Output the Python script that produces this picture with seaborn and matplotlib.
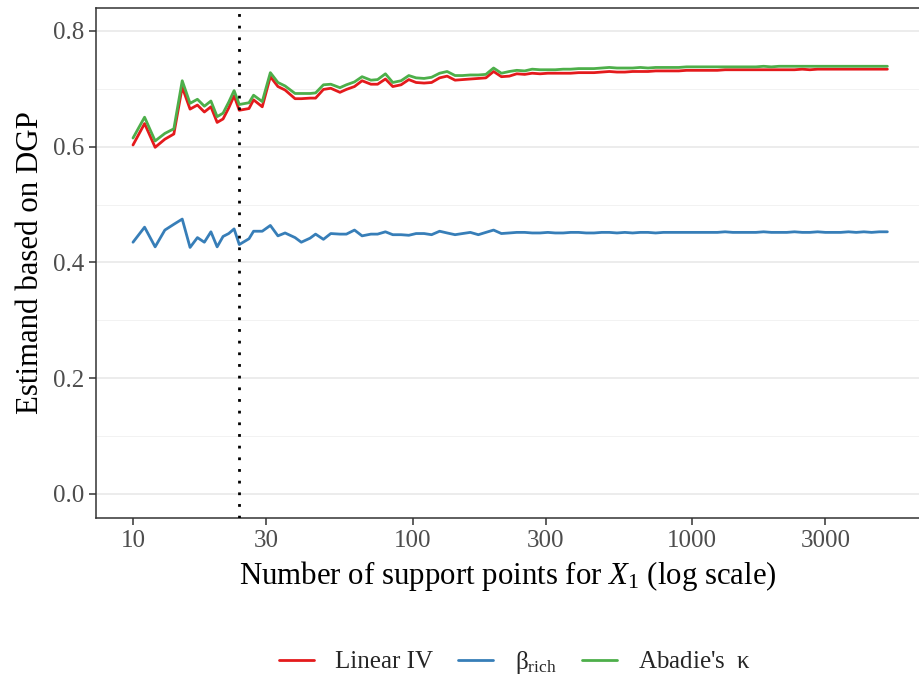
import numpy as np
import pandas as pd
import matplotlib
matplotlib.use("Agg")
import matplotlib.pyplot as plt
import seaborn as sns
from matplotlib.ticker import FixedLocator, NullLocator, FixedFormatter

# Number of support points for X1
support_points = [10, 11, 12, 13, 14, 15, 16, 17, 18, 19, 20, 21, 22, 23, 24,
                  26, 27, 29, 31, 33, 35, 38, 40, 43, 45, 48, 51, 55, 58, 62, 66, 71, 75, 80,
                  85, 91, 97, 103, 110, 117, 125, 133, 142, 151, 161, 172, 183, 195, 208, 222,
                  236, 252, 268, 286, 305, 324, 346, 368, 393,
                  418, 446, 475, 506, 539, 575, 613, 653, 696, 741, 790, 842, 897, 956, 1018,
                  1085, 1156, 1232, 1313, 1399, 1491, 1589, 1693, 1804, 1922, 2048, 2183, 2326,
                  2479, 2641, 2815, 2999, 3196, 3405, 3629, 3867, 4121, 4391, 4679, 5000]

linear_iv = [0.603, 0.640, 0.599, 0.613, 0.622, 0.703, 0.665, 0.672, 0.660, 0.669, 0.642, 0.648, 0.667, 0.688, 0.663,
             0.666, 0.681, 0.669, 0.721, 0.704, 0.698, 0.683, 0.683, 0.684, 0.684, 0.699, 0.701, 0.694, 0.699, 0.704, 0.714, 0.708, 0.708, 0.717,
             0.704, 0.707, 0.716, 0.711, 0.710, 0.711, 0.719, 0.722, 0.715, 0.716, 0.717, 0.718, 0.719, 0.730, 0.721, 0.722,
             0.726, 0.725, 0.727, 0.726, 0.727, 0.727, 0.727, 0.727, 0.728,
             0.728, 0.728, 0.729, 0.730, 0.729, 0.729, 0.730, 0.730, 0.730, 0.731, 0.731, 0.731, 0.731, 0.732, 0.732,
             0.732, 0.732, 0.732, 0.733, 0.733, 0.733, 0.733, 0.733, 0.733, 0.733, 0.733, 0.733, 0.733,
             0.734, 0.733, 0.734, 0.734, 0.734, 0.734, 0.734, 0.734, 0.734, 0.734, 0.734, 0.734]

beta_rich = [0.435, 0.461, 0.427, 0.456, 0.466, 0.475, 0.426, 0.443, 0.435, 0.453, 0.427, 0.445, 0.450, 0.458, 0.431,
             0.441, 0.454, 0.454, 0.464, 0.446, 0.451, 0.443, 0.435, 0.442, 0.449, 0.440, 0.450, 0.449, 0.449, 0.456, 0.446, 0.449, 0.449, 0.453,
             0.448, 0.448, 0.447, 0.450, 0.450, 0.448, 0.454, 0.451, 0.448, 0.450, 0.452, 0.448, 0.452, 0.456, 0.450, 0.451,
             0.452, 0.452, 0.451, 0.451, 0.452, 0.451, 0.451, 0.452, 0.452,
             0.451, 0.451, 0.452, 0.452, 0.451, 0.452, 0.451, 0.452, 0.452, 0.451, 0.452, 0.452, 0.452, 0.452, 0.452,
             0.452, 0.452, 0.452, 0.453, 0.452, 0.452, 0.452, 0.452, 0.453, 0.452, 0.452, 0.452, 0.453,
             0.452, 0.452, 0.453, 0.452, 0.452, 0.452, 0.453, 0.452, 0.453, 0.452, 0.453, 0.453]

abadie_kappa = [0.615, 0.651, 0.610, 0.623, 0.631, 0.714, 0.675, 0.682, 0.670, 0.679, 0.652, 0.658, 0.677, 0.697, 0.673,
                0.676, 0.689, 0.678, 0.728, 0.711, 0.705, 0.692, 0.692, 0.692, 0.693, 0.707, 0.708, 0.702, 0.707, 0.712, 0.721, 0.715, 0.716, 0.726,
                0.711, 0.714, 0.723, 0.719, 0.718, 0.720, 0.727, 0.730, 0.723, 0.723, 0.724, 0.724, 0.725, 0.736, 0.727, 0.730,
                0.732, 0.731, 0.734, 0.733, 0.733, 0.733, 0.734, 0.734, 0.735,
                0.735, 0.735, 0.736, 0.737, 0.736, 0.736, 0.736, 0.737, 0.736, 0.737, 0.737, 0.737, 0.737, 0.738, 0.738,
                0.738, 0.738, 0.738, 0.738, 0.738, 0.738, 0.738, 0.738, 0.739, 0.738, 0.739, 0.739, 0.739,
                0.739, 0.739, 0.739, 0.739, 0.739, 0.739, 0.739, 0.739, 0.739, 0.739, 0.739, 0.739]

series_labels = ["Linear IV", r"$\mathrm{β}_{\mathrm{rich}}$", r"Abadie's  $\mathrm{κ}$"]
series_colors = ["#E41A1C", "#377EB8", "#4DAF4A"]
cutoff_support = 24

x_ticks = [10, 30, 100, 300, 1000, 3000]
x_tick_labels = ["10", "30", "100", "300", "1000", "3000"]
y_ticks = [0.0, 0.2, 0.4, 0.6, 0.8]
y_minor = [0.1, 0.3, 0.5, 0.7]

df = pd.DataFrame({
    "support": support_points * 3,
    "estimand": linear_iv + beta_rich + abadie_kappa,
    "method": [series_labels[0]] * len(support_points)
              + [series_labels[1]] * len(support_points)
              + [series_labels[2]] * len(support_points),
})

sns.set_theme(style="white")
plt.rcParams["font.family"] = ["Liberation Serif", "DejaVu Serif"]
plt.rcParams["mathtext.fontset"] = "custom"
plt.rcParams["mathtext.rm"] = "Liberation Serif"
plt.rcParams["mathtext.it"] = "Liberation Serif:italic"
plt.rcParams["mathtext.bf"] = "Liberation Serif:bold"

fig = plt.figure(figsize=(9.19, 6.84), dpi=100)
ax = fig.add_axes([96 / 919, 1 - 518 / 684, 824 / 919, 510 / 684])

sns.lineplot(data=df, x="support", y="estimand", hue="method",
             hue_order=series_labels, palette=dict(zip(series_labels, series_colors)),
             linewidth=2.0, ax=ax, zorder=3)

ax.axvline(cutoff_support, color="black", linewidth=2.0, linestyle=(0, (1, 3.2)), zorder=4)

ax.set_xscale("log")
ax.set_xlim(10 ** 0.8676, 10 ** 3.8157)
ax.set_ylim(-0.0415, 0.8397)

ax.xaxis.set_major_locator(FixedLocator(x_ticks))
ax.xaxis.set_major_formatter(FixedFormatter(x_tick_labels))
ax.xaxis.set_minor_locator(NullLocator())
ax.yaxis.set_major_locator(FixedLocator(y_ticks))
ax.set_yticklabels([f"{v:.1f}" for v in y_ticks])
ax.yaxis.set_minor_locator(FixedLocator(y_minor))

ax.grid(False)
ax.grid(axis="y", which="major", color="#EBEBEB", linewidth=1.3, zorder=0)
ax.grid(axis="y", which="minor", color="#F2F2F2", linewidth=0.7, zorder=0)
ax.set_axisbelow(True)

for spine in ax.spines.values():
    spine.set_color("#333333")
    spine.set_linewidth(1.1)

ax.tick_params(axis="both", which="major", direction="out", length=5, width=1.1,
               color="#333333", labelcolor="#4D4D4D", labelsize=18, pad=3.5,
               bottom=True, left=True)
ax.tick_params(axis="y", which="minor", length=0)

ax.set_xlabel(r"Number of support points for $X_1$ (log scale)", fontsize=22.2,
              color="black", labelpad=5)
ax.set_ylabel("Estimand based on DGP", fontsize=22.2, color="black", labelpad=6)

sns.move_legend(ax, "center", bbox_to_anchor=(515 / 919, 1 - 662 / 684),
                bbox_transform=fig.transFigure, ncol=3, frameon=False, title=None,
                fontsize=18, handlelength=1.4, handletextpad=0.85, columnspacing=1.0)

fig.savefig("out.png", dpi=100)
